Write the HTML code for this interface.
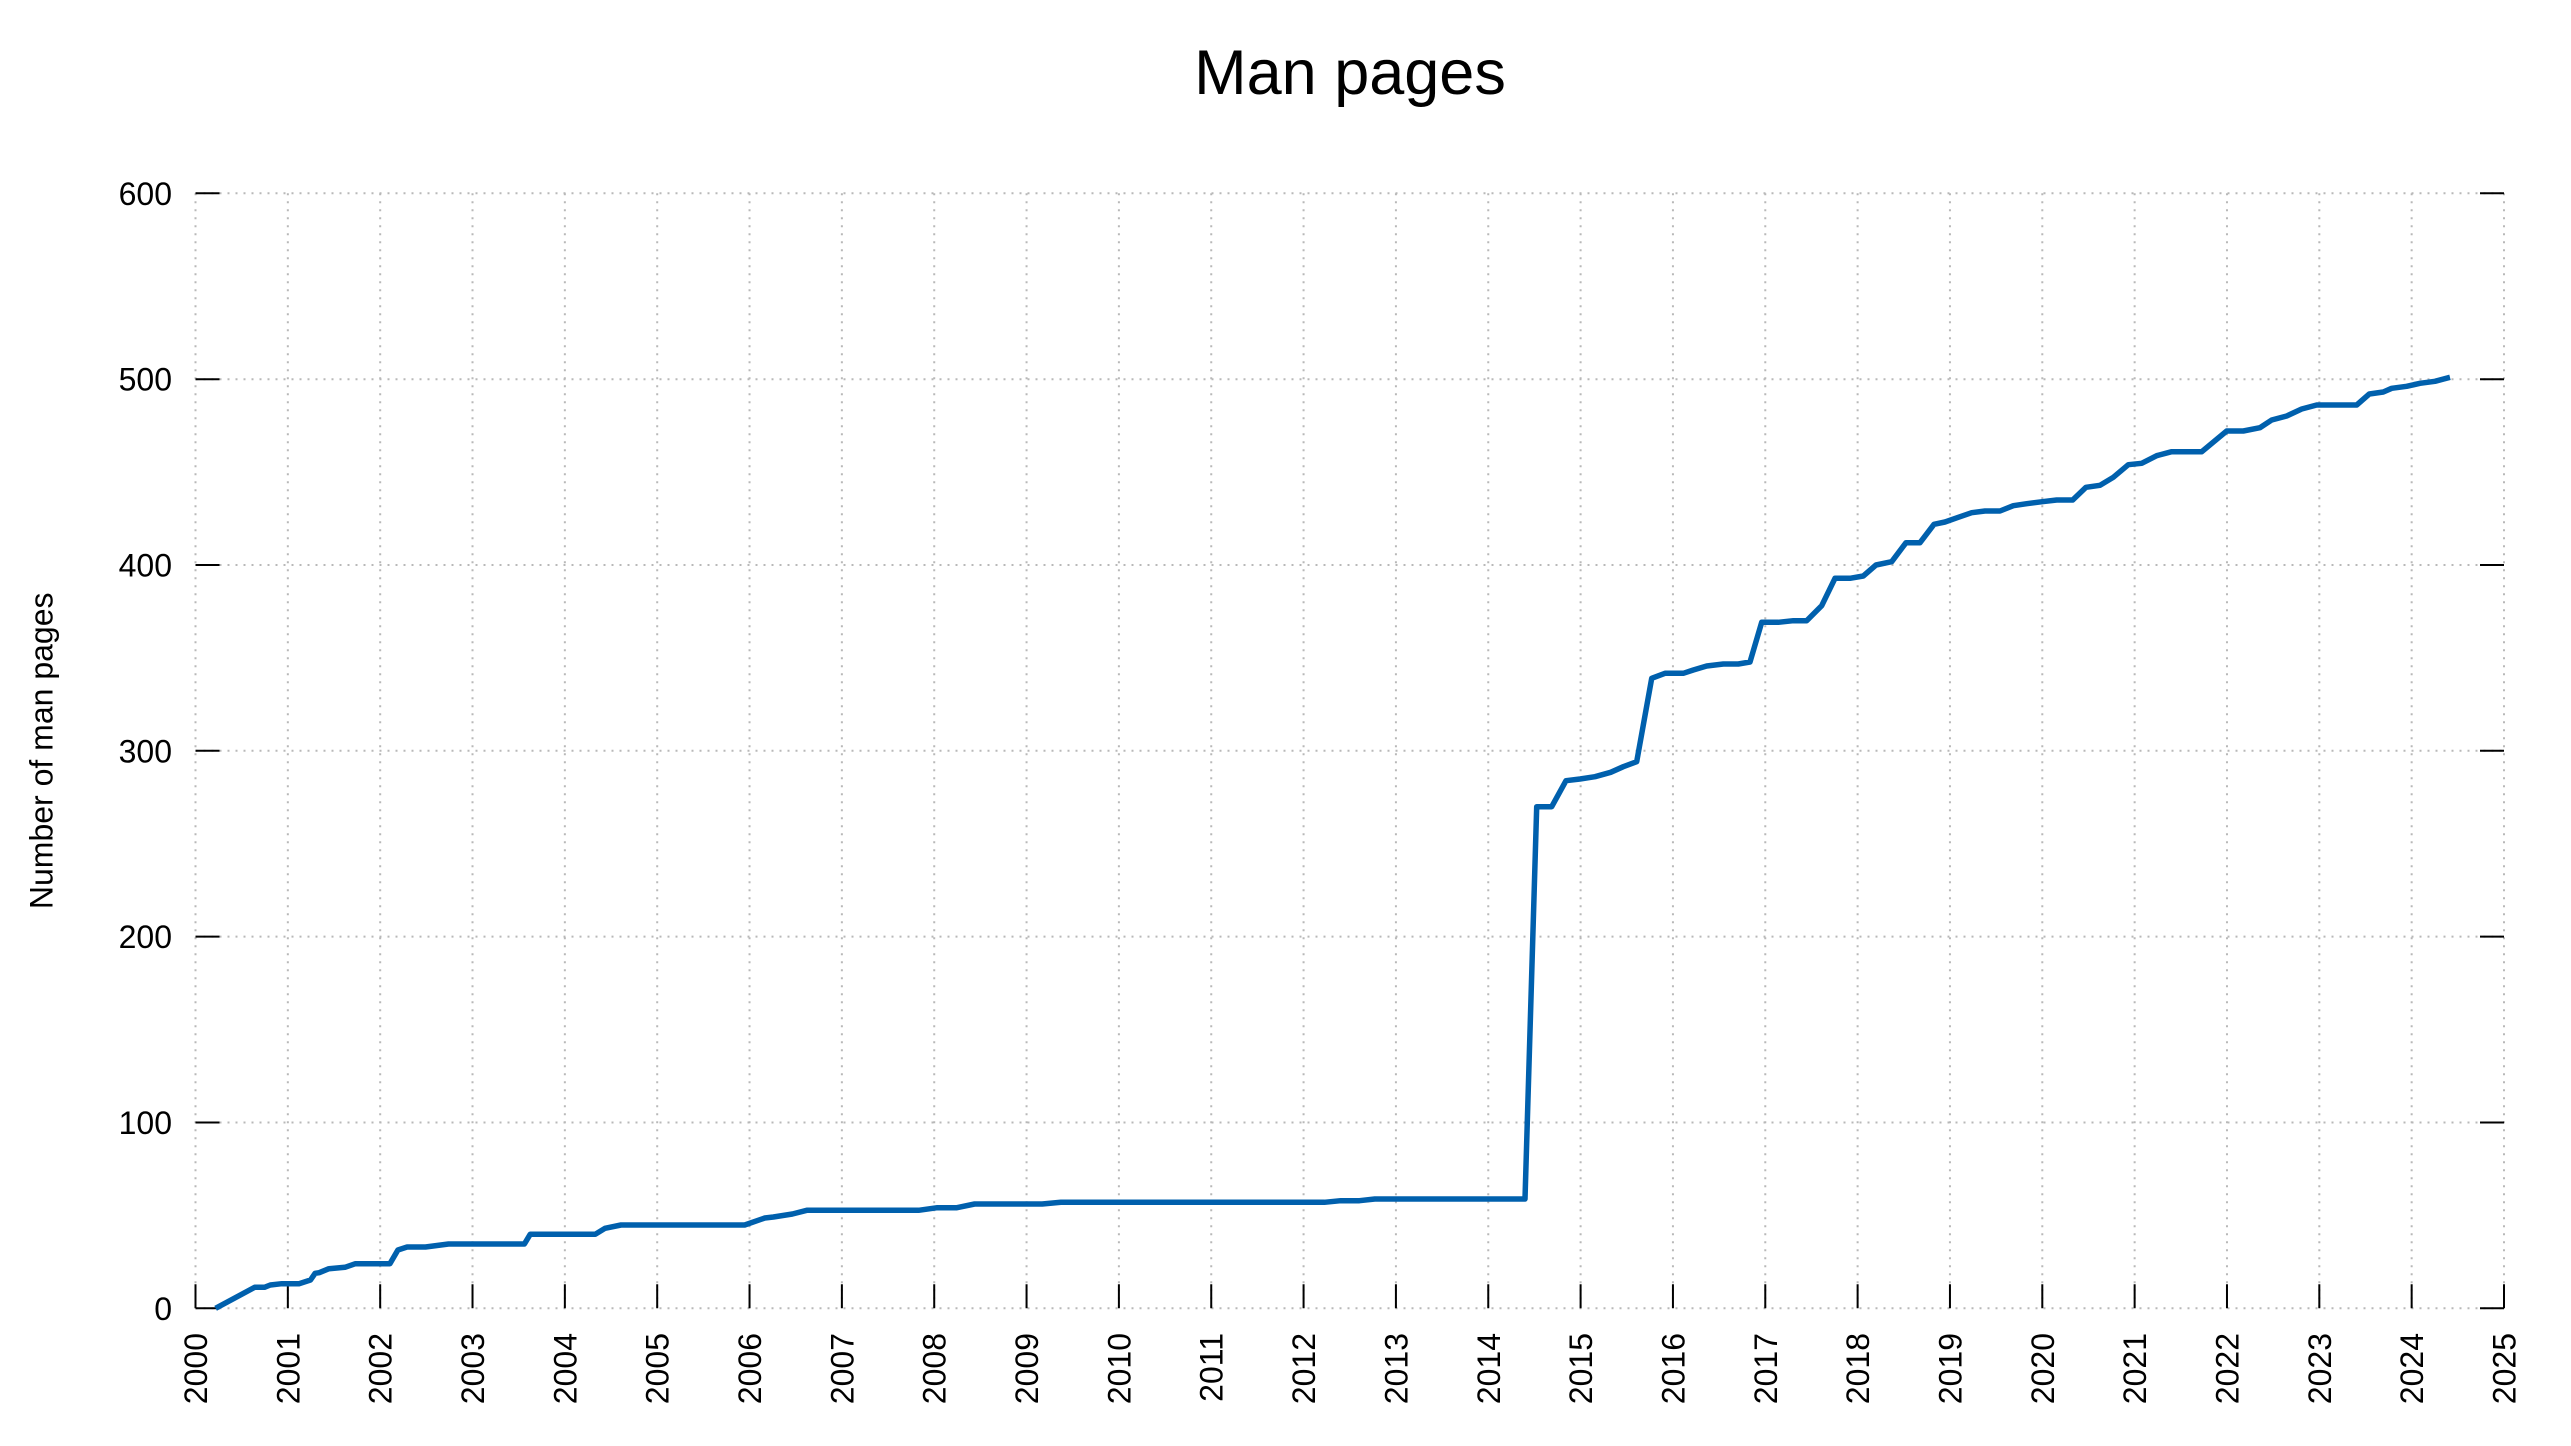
<!DOCTYPE html>
<html>
<head>
<meta charset="utf-8">
<style>
html,body{margin:0;padding:0;background:#fff;}
svg{display:block;}
text{font-family:"Liberation Sans",Arial,sans-serif;fill:#000;}
</style>
</head>
<body>
<svg width="2571" height="1446" viewBox="0 0 2571 1446" xmlns="http://www.w3.org/2000/svg">
<rect width="2571" height="1446" fill="#fff"/>
<!-- grid -->
<g stroke="#b8b8b8" stroke-width="2" stroke-dasharray="2 6" fill="none">
<line x1="195.5" y1="193.3" x2="2504" y2="193.3"/>
<line x1="195.5" y1="379.2" x2="2504" y2="379.2"/>
<line x1="195.5" y1="565" x2="2504" y2="565"/>
<line x1="195.5" y1="750.8" x2="2504" y2="750.8"/>
<line x1="195.5" y1="936.6" x2="2504" y2="936.6"/>
<line x1="195.5" y1="1122.5" x2="2504" y2="1122.5"/>
<line x1="195.5" y1="1308.3" x2="2504" y2="1308.3"/>
<line x1="195.5" y1="193.3" x2="195.5" y2="1308.3"/>
<line x1="287.84" y1="193.3" x2="287.84" y2="1308.3"/>
<line x1="380.18" y1="193.3" x2="380.18" y2="1308.3"/>
<line x1="472.52" y1="193.3" x2="472.52" y2="1308.3"/>
<line x1="564.86" y1="193.3" x2="564.86" y2="1308.3"/>
<line x1="657.2" y1="193.3" x2="657.2" y2="1308.3"/>
<line x1="749.54" y1="193.3" x2="749.54" y2="1308.3"/>
<line x1="841.88" y1="193.3" x2="841.88" y2="1308.3"/>
<line x1="934.22" y1="193.3" x2="934.22" y2="1308.3"/>
<line x1="1026.56" y1="193.3" x2="1026.56" y2="1308.3"/>
<line x1="1118.9" y1="193.3" x2="1118.9" y2="1308.3"/>
<line x1="1211.24" y1="193.3" x2="1211.24" y2="1308.3"/>
<line x1="1303.58" y1="193.3" x2="1303.58" y2="1308.3"/>
<line x1="1395.92" y1="193.3" x2="1395.92" y2="1308.3"/>
<line x1="1488.26" y1="193.3" x2="1488.26" y2="1308.3"/>
<line x1="1580.6" y1="193.3" x2="1580.6" y2="1308.3"/>
<line x1="1672.94" y1="193.3" x2="1672.94" y2="1308.3"/>
<line x1="1765.28" y1="193.3" x2="1765.28" y2="1308.3"/>
<line x1="1857.62" y1="193.3" x2="1857.62" y2="1308.3"/>
<line x1="1949.96" y1="193.3" x2="1949.96" y2="1308.3"/>
<line x1="2042.3" y1="193.3" x2="2042.3" y2="1308.3"/>
<line x1="2134.64" y1="193.3" x2="2134.64" y2="1308.3"/>
<line x1="2226.98" y1="193.3" x2="2226.98" y2="1308.3"/>
<line x1="2319.32" y1="193.3" x2="2319.32" y2="1308.3"/>
<line x1="2411.66" y1="193.3" x2="2411.66" y2="1308.3"/>
<line x1="2504" y1="193.3" x2="2504" y2="1308.3"/>
</g>
<!-- ticks -->
<g stroke="#000" stroke-width="2" fill="none">
<path d="M195.5 193.3h24M195.5 379.2h24M195.5 565h24M195.5 750.8h24M195.5 936.6h24M195.5 1122.5h24M195.5 1308.3h24"/>
<path d="M2504 193.3h-24M2504 379.2h-24M2504 565h-24M2504 750.8h-24M2504 936.6h-24M2504 1122.5h-24M2504 1308.3h-24"/>
<path d="M195.5 1308.3v-24M287.84 1308.3v-24M380.18 1308.3v-24M472.52 1308.3v-24M564.86 1308.3v-24M657.2 1308.3v-24M749.54 1308.3v-24M841.88 1308.3v-24M934.22 1308.3v-24M1026.56 1308.3v-24M1118.9 1308.3v-24M1211.24 1308.3v-24M1303.58 1308.3v-24M1395.92 1308.3v-24M1488.26 1308.3v-24M1580.6 1308.3v-24M1672.94 1308.3v-24M1765.28 1308.3v-24M1857.62 1308.3v-24M1949.96 1308.3v-24M2042.3 1308.3v-24M2134.64 1308.3v-24M2226.98 1308.3v-24M2319.32 1308.3v-24M2411.66 1308.3v-24M2504 1308.3v-24"/>
</g>
<!-- y tick labels -->
<g font-size="32" text-anchor="end">
<text x="172" y="204.8">600</text>
<text x="172" y="390.7">500</text>
<text x="172" y="576.5">400</text>
<text x="172" y="762.3">300</text>
<text x="172" y="948.1">200</text>
<text x="172" y="1134">100</text>
<text x="172" y="1319.8">0</text>
</g>
<!-- x tick labels -->
<g font-size="32" text-anchor="end">
<text transform="translate(207,1333) rotate(-90)">2000</text>
<text transform="translate(299.34,1333) rotate(-90)">2001</text>
<text transform="translate(391.68,1333) rotate(-90)">2002</text>
<text transform="translate(484.02,1333) rotate(-90)">2003</text>
<text transform="translate(576.36,1333) rotate(-90)">2004</text>
<text transform="translate(668.7,1333) rotate(-90)">2005</text>
<text transform="translate(761.04,1333) rotate(-90)">2006</text>
<text transform="translate(853.38,1333) rotate(-90)">2007</text>
<text transform="translate(945.72,1333) rotate(-90)">2008</text>
<text transform="translate(1038.06,1333) rotate(-90)">2009</text>
<text transform="translate(1130.4,1333) rotate(-90)">2010</text>
<text transform="translate(1222.74,1333) rotate(-90)">2011</text>
<text transform="translate(1315.08,1333) rotate(-90)">2012</text>
<text transform="translate(1407.42,1333) rotate(-90)">2013</text>
<text transform="translate(1499.76,1333) rotate(-90)">2014</text>
<text transform="translate(1592.1,1333) rotate(-90)">2015</text>
<text transform="translate(1684.44,1333) rotate(-90)">2016</text>
<text transform="translate(1776.78,1333) rotate(-90)">2017</text>
<text transform="translate(1869.12,1333) rotate(-90)">2018</text>
<text transform="translate(1961.46,1333) rotate(-90)">2019</text>
<text transform="translate(2053.8,1333) rotate(-90)">2020</text>
<text transform="translate(2146.14,1333) rotate(-90)">2021</text>
<text transform="translate(2238.48,1333) rotate(-90)">2022</text>
<text transform="translate(2330.82,1333) rotate(-90)">2023</text>
<text transform="translate(2423.16,1333) rotate(-90)">2024</text>
<text transform="translate(2515.5,1333) rotate(-90)">2025</text>
</g>
<!-- axis label -->
<text font-size="32" text-anchor="middle" transform="translate(52.7,750.8) rotate(-90)">Number of man pages</text>
<!-- title -->
<text font-size="63" text-anchor="middle" x="1350" y="94">Man pages</text>
<!-- data -->
<polyline fill="none" stroke="#0060ad" stroke-width="5.5" stroke-linejoin="round" points="
215.6,1308.3 254.7,1287.3 264.5,1287.3 270.3,1285 281.8,1283.7 299.0,1283.7 310.5,1280 315.1,1273.3 319.2,1272.7 328.9,1268.7 345.0,1267.3 355.4,1263.7 389.9,1263.7 397.9,1250 407.1,1247 425.5,1247 448.5,1244 524.4,1244 530.2,1234.3 595.2,1234.3 605.0,1228.3 621.0,1225 744.7,1225 764.8,1218 773.4,1217 792.4,1214 806.8,1210.3 918.6,1210.3 937.3,1207.7 956.9,1207.7 974.6,1204 1042.2,1204 1060.9,1202.3 1324.4,1202.3 1340.7,1200.7 1359.4,1200.7 1374.8,1199 1525.0,1199 1536.7,806.7 1551.7,806.7 1566,780.7 1580,779 1595,776.7 1610.7,772.3 1623.3,766.7 1636.7,761.7 1651.7,678.3 1665,673.3 1683.3,673.3 1693.3,670 1706.7,666 1723.3,664 1738.3,664 1750,662 1761.7,622.3 1778.3,622.3 1793.3,620.7 1806.7,620.7 1821.7,605.7 1835,578.3 1850,578.3 1863.3,576 1876,565 1891.7,561.7 1906,542.7 1920,542.7 1934,524.3 1945,522 1958.3,517.3 1971.7,512.7 1985,511 2000,511 2013.3,505.7 2026.7,503.7 2042.3,501.7 2056.7,500 2072.7,500 2086,487.3 2100,485.3 2113.3,477.3 2128.3,464.7 2141.7,463.3 2156.7,455.7 2171.7,451.7 2201.7,451.7 2226.7,431 2243.3,431 2260,427.7 2271.7,420 2286.7,416 2301.7,409 2316.7,405 2356.7,405 2369.3,394 2383.3,392 2391.7,388.3 2406.7,386.3 2420,383.3 2435,381.3 2450,377.3"/>
</svg>
</body>
</html>
